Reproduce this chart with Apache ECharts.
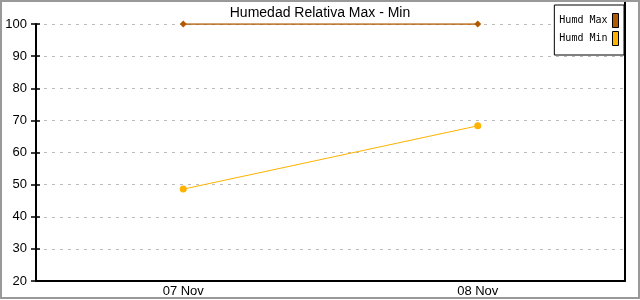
<!DOCTYPE html>
<html><head><meta charset="utf-8">
<script src="https://cdn.jsdelivr.net/npm/echarts@6/dist/echarts.min.js"></script>
<style>html,body{margin:0;padding:0;background:#fff}#c{width:640px;height:300px}</style>
</head><body><div id="c"></div>
<script>
const categories = ['07 Nov', '08 Nov'];
const humdMax = [100, 100];
const humdMin = [48.6, 68.3];
const yTicks = [20, 30, 40, 50, 60, 70, 80, 90, 100];

const chart = echarts.init(document.getElementById('c'), null, {renderer: 'canvas'});
chart.setOption({
  animation: false,
  backgroundColor: '#fff',
  title: {
    text: 'Humedad Relativa Max - Min', left: 'center', top: 1,
    textStyle: {fontFamily: 'Liberation Sans', fontSize: 14, fontWeight: 'normal', color: '#000'}
  },
  legend: {
    right: 16, top: 5, orient: 'vertical', align: 'right',
    backgroundColor: '#fff', borderColor: '#000', borderWidth: 1,
    padding: [8, 5, 9, 5], itemGap: 3, itemWidth: 6, itemHeight: 14,
    textStyle: {fontFamily: 'DejaVu Sans Mono', fontSize: 10, color: '#000'},
    data: [
      {name: 'Humd Max', icon: 'rect', itemStyle: {color: '#b35900', borderColor: '#000', borderWidth: 1}},
      {name: 'Humd Min', icon: 'rect', itemStyle: {color: '#ffb300', borderColor: '#000', borderWidth: 1}}
    ]
  },
  grid: {left: 36, right: 15, top: 24, bottom: 19, containLabel: false},
  xAxis: {
    type: 'category', data: categories, boundaryGap: true,
    axisLine: {lineStyle: {color: '#000', width: 2}},
    axisTick: {show: false},
    axisLabel: {fontFamily: 'Liberation Sans', fontSize: 13, color: '#000', margin: 4}
  },
  yAxis: [{
    type: 'value', min: yTicks[0], max: yTicks[yTicks.length - 1], interval: 10,
    axisLine: {show: true, lineStyle: {color: '#000', width: 2}},
    axisTick: {show: true, length: 5, lineStyle: {color: '#000', width: 1.5}},
    axisLabel: {fontFamily: 'Liberation Sans', fontSize: 13, color: '#000', margin: 9},
    splitLine: {show: true, lineStyle: {color: '#bbb', type: [3, 5], width: 1}}
  }, {
    type: 'value', min: 20, max: 100, position: 'right',
    axisLine: {show: true, lineStyle: {color: '#000', width: 2}},
    axisTick: {show: false}, axisLabel: {show: false}, splitLine: {show: false}
  }, {
    type: 'value', min: 20, max: 100, interval: 10, position: 'left',
    axisLine: {show: false},
    axisTick: {show: true, inside: true, length: 4, lineStyle: {color: '#000', width: 1.5}},
    axisLabel: {show: false}, splitLine: {show: false}
  }],
  series: [
    {name: 'Humd Max', type: 'line', data: humdMax, symbol: 'diamond', symbolSize: 7,
     color: '#b35900', lineStyle: {width: 1.5, color: '#b35900'}, itemStyle: {color: '#b35900'}},
    {name: 'Humd Min', type: 'line', data: humdMin, symbol: 'circle', symbolSize: 7,
     color: '#ffb300', lineStyle: {width: 1, color: '#ffb300'}, itemStyle: {color: '#ffb300'}}
  ],
  graphic: [
    {type: 'line', shape: {x1: 625, y1: 0, x2: 625, y2: 24}, style: {stroke: '#000', lineWidth: 2}, z: 0},
    {type: 'rect', shape: {x: 1, y: 1, width: 638, height: 297}, style: {fill: 'none', stroke: '#999', lineWidth: 2}, z: 10}
  ]
});
</script></body></html>
